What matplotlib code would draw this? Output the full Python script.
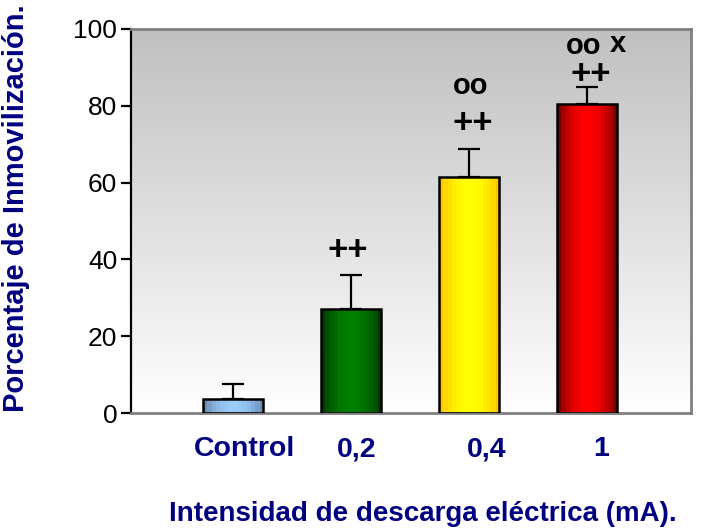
import numpy as np
import matplotlib
matplotlib.use('Agg')
import matplotlib.pyplot as plt
from matplotlib.colors import to_rgb

plt.rcParams['font.family'] = ['Liberation Sans', 'DejaVu Sans']

categories = ['Control', '0,2', '0,4', '1']
means = [3.6, 27.0, 61.4, 80.4]
sem = [4.0, 9.0, 7.3, 4.5]

# significance symbols: (text, x offset from bar centre, y in axis units)
plus_marks = [None, ('++', -0.03, 42.3), ('++', 0.03, 75.5), ('++', 0.03, 88.2)]
o_marks = [None, None, ('oo', 0.01, 85.2), ('oo', -0.03, 95.6)]
x_marks = [None, None, None, ('x', 0.26, 96.0)]

# colour pairs (edge shade, centre highlight) for each bar
bar_dark = ['#6b8bb3', '#003a00', '#ffc400', '#7a0000']
bar_light = ['#9acbfb', '#008000', '#ffff00', '#ff0000']

navy = '#000080'
x = np.arange(len(categories))
width = 0.51

fig = plt.figure(figsize=(7.09, 5.31), dpi=100)
ax = fig.add_axes([0.1848, 0.2222, 0.79, 0.7232])

# vertical grey gradient behind the bars
xlim = (-0.864, 3.88)
bg = np.linspace(1.0, 0.753, 256)[:, None]
ax.imshow(np.dstack([bg, bg, bg]), extent=[xlim[0], xlim[1], 0, 100],
          origin='lower', aspect='auto', zorder=0)

# upper error bars only
ax.errorbar(x, means, yerr=[np.zeros(len(x)), sem], fmt='none',
            ecolor='black', elinewidth=1.6, capsize=8, capthick=1.6, zorder=1)

# cylinder-like banded shading inside each bar
steps = np.linspace(0, 1, 14)
profile = np.sin(np.pi * steps) ** 0.8
for xi, h, dark, light in zip(x, means, bar_dark, bar_light):
    d = np.array(to_rgb(dark))
    l = np.array(to_rgb(light))
    cols = d + (l - d) * profile[:, None]
    ax.imshow(cols[None, :, :], extent=[xi - width / 2, xi + width / 2, 0, h],
              aspect='auto', interpolation='nearest', zorder=2)
ax.bar(x, means, width=width, facecolor='none', edgecolor='black',
       linewidth=1.8, zorder=3)

for xi, p, o, s in zip(x, plus_marks, o_marks, x_marks):
    if p:
        ax.text(xi + p[1], p[2], p[0], ha='center', va='center',
                fontsize=25, fontweight='bold', zorder=4)
    if o:
        ax.text(xi + o[1], o[2], o[0], ha='center', va='center',
                fontsize=21, fontweight='bold', zorder=4)
    if s:
        ax.text(xi + s[1], s[2], s[0], ha='center', va='center',
                fontsize=21, fontweight='bold', zorder=4)

ax.set_xlim(*xlim)
ax.set_ylim(0, 100)
ax.set_yticks([0, 20, 40, 60, 80, 100])
ax.tick_params(axis='y', labelsize=19, length=7, width=1.6, direction='out', pad=3)

label_shift = [0.1, 0.05, 0.15, 0.12]
ax.set_xticks(x + np.array(label_shift))
ax.set_xticklabels(categories, fontsize=20.5, fontweight='bold', color=navy)
ax.tick_params(axis='x', length=0, pad=31)
for lab in ax.get_xticklabels():
    lab.set_verticalalignment('baseline')

ax.spines['left'].set_color('black')
ax.spines['left'].set_linewidth(1.6)
for side in ['top', 'right', 'bottom']:
    ax.spines[side].set_color('#808080')
    ax.spines[side].set_linewidth(2)

fig.text(0.596, 0.032, 'Intensidad de descarga eléctrica (mA).', ha='center',
         va='center', fontsize=20, fontweight='bold', color=navy)
fig.text(0.022, 0.608, 'Porcentaje de Inmovilización.', ha='center', va='center',
         rotation=90, fontsize=21, fontweight='bold', color=navy)

fig.savefig('out.png', dpi=100)
